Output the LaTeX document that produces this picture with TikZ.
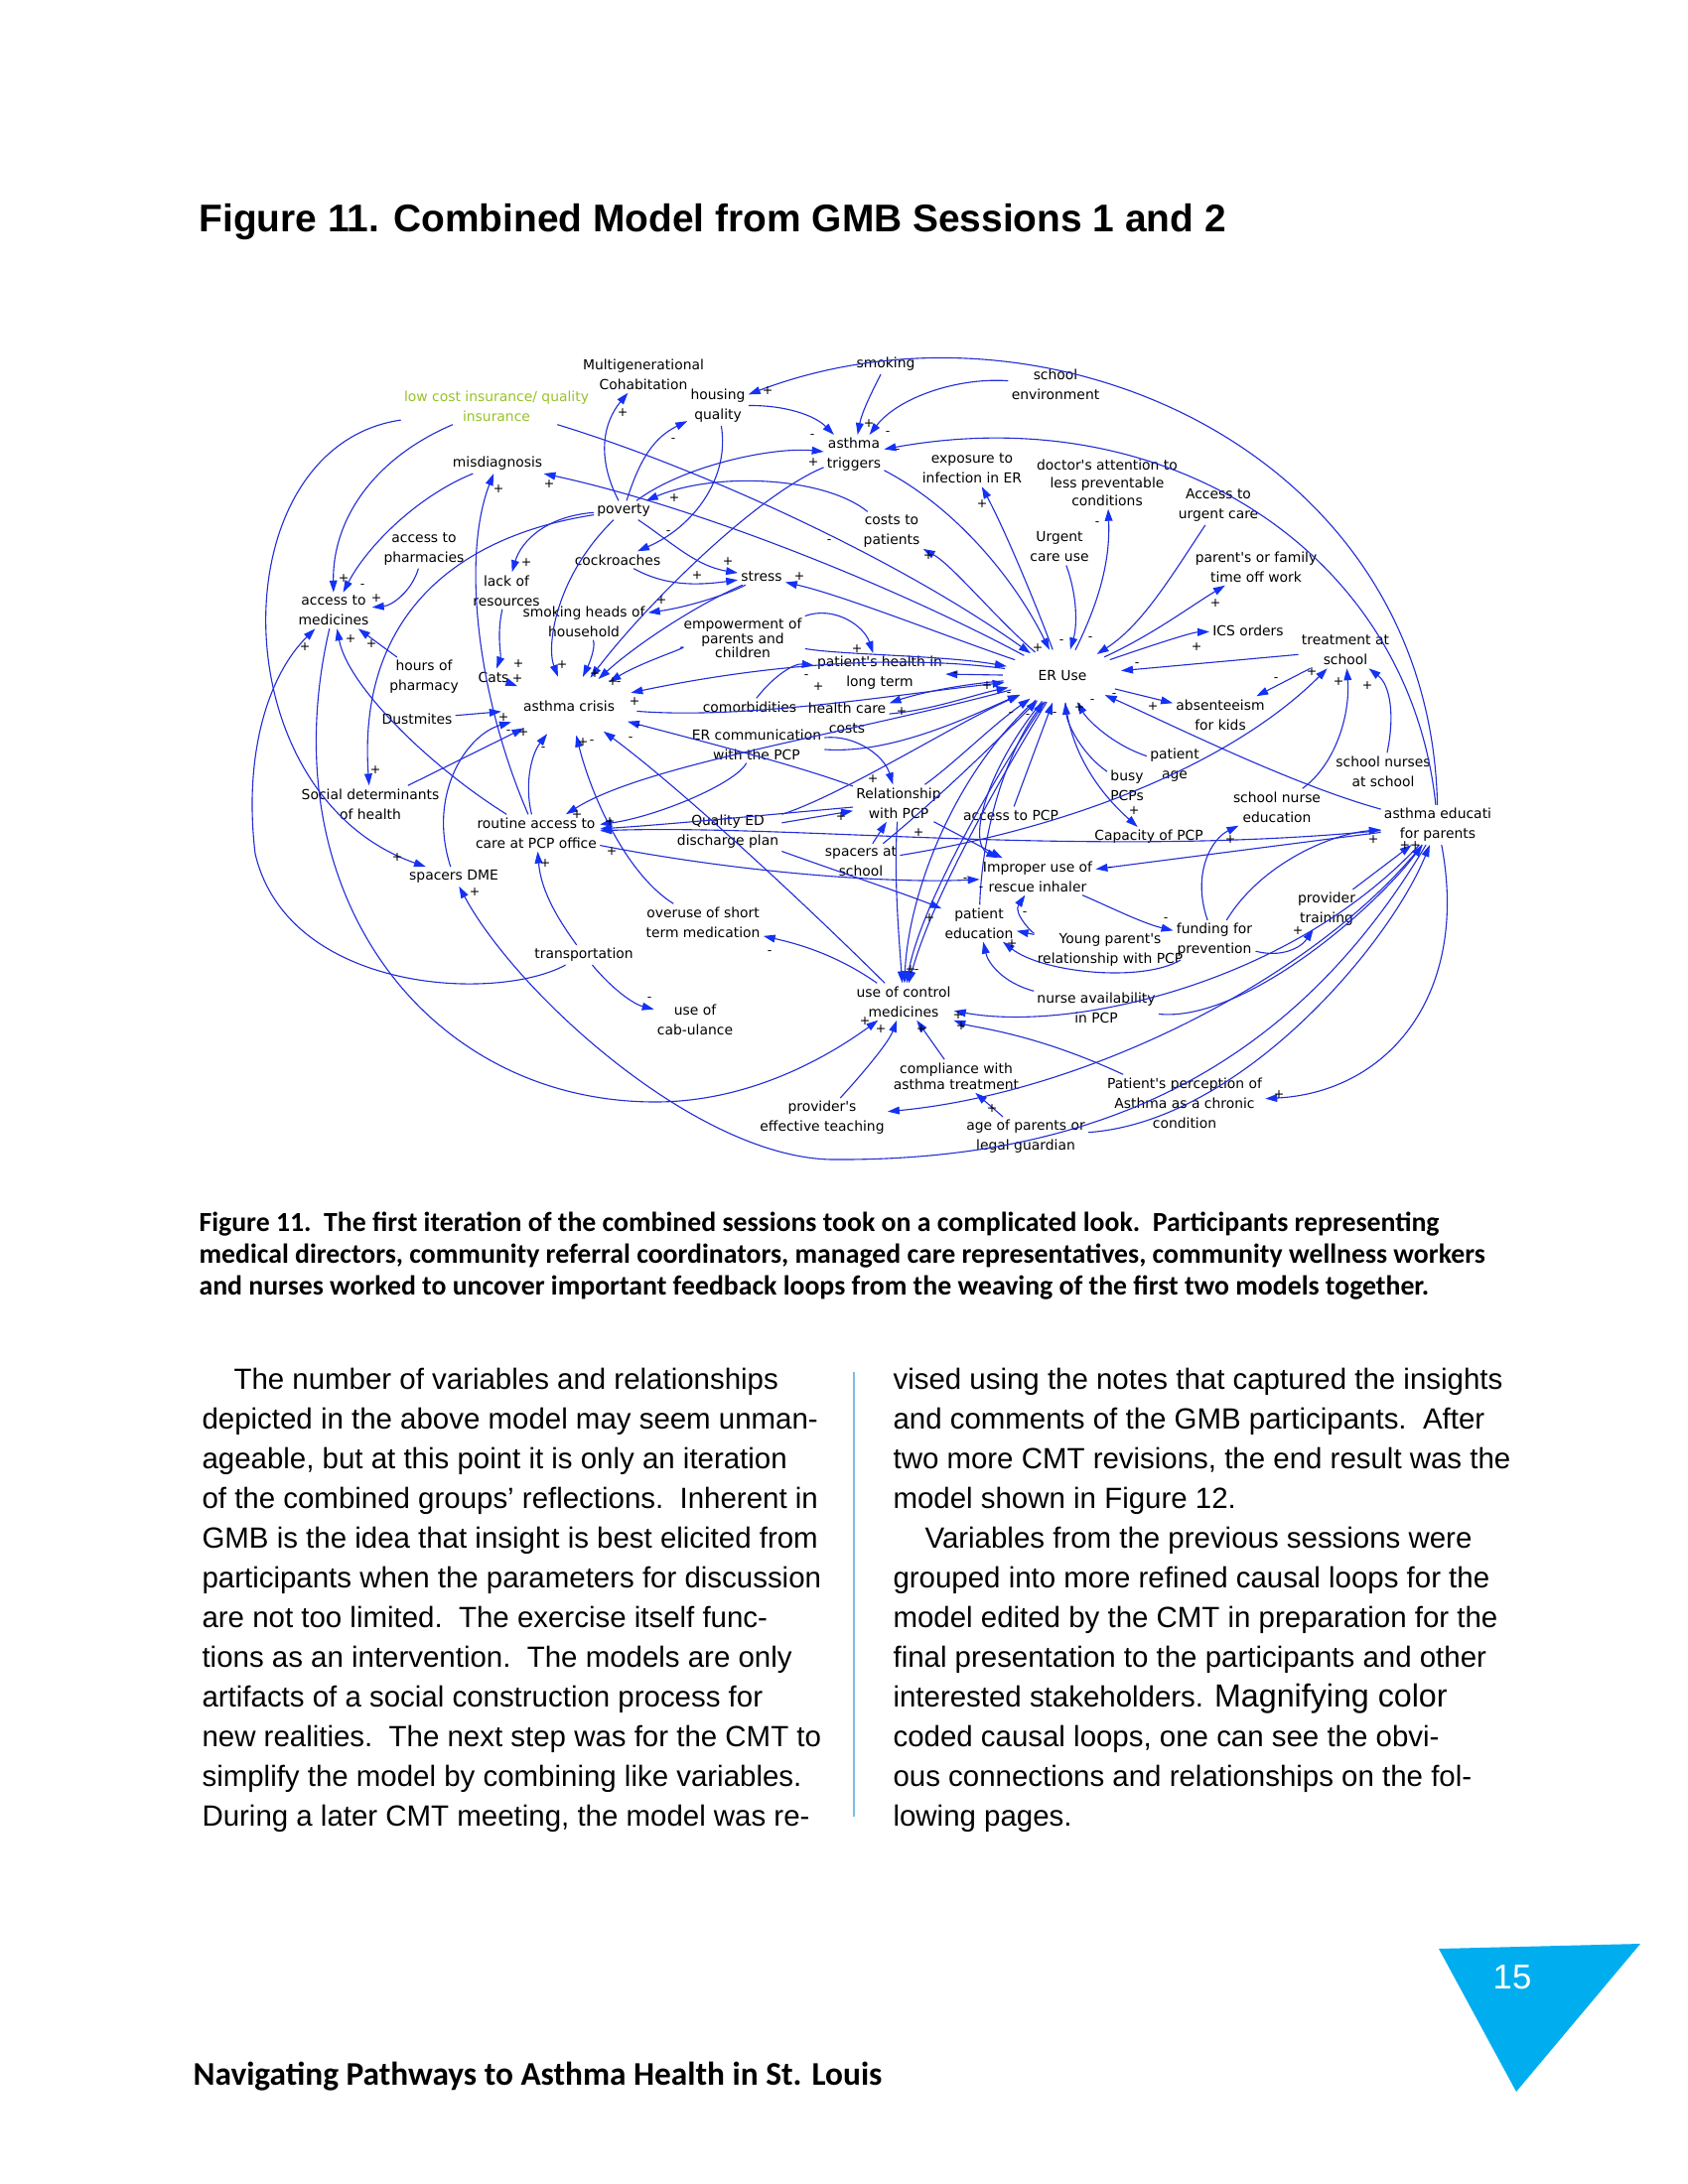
\documentclass[tikz,border=0pt]{standalone}
\usepackage{fontspec}
\setmainfont{Liberation Sans}
\newfontfamily\dfont{DejaVu Sans}
\newfontfamily\capfont{Carlito}
\usetikzlibrary{arrows.meta,shapes.geometric}
\definecolor{lnblue}{RGB}{35,45,215}
\definecolor{tipblue}{RGB}{20,50,245}
\definecolor{insgreen}{RGB}{150,195,40}
\definecolor{cyantri}{RGB}{0,174,239}
\definecolor{rulecol}{RGB}{120,190,230}
\newcounter{pc}
\newcommand\pl[3]{\stepcounter{pc}\node[pol] (pl\arabic{pc}) at (#1,#2) {#3};}
\tikzset{
 lab/.style={font=\dfont\fontsize{5}{7.2}\selectfont, align=center, inner sep=1pt},
 lnk/.style={draw=lnblue, line width=0.4pt, -{Triangle[length=4.3pt,width=2.8pt,color=tipblue]}},
 pol/.style={font=\dfont\fontsize{4.5}{5}\selectfont, inner sep=0pt},
 body/.style={font=\fontsize{10.6}{12}\selectfont, anchor=base west, inner sep=0pt},
 capt/.style={font=\capfont\bfseries\fontsize{10}{11}\selectfont, anchor=base west, inner sep=0pt},
}
\begin{document}
\begin{tikzpicture}[x=0.36pt,y=-0.36pt]
\useasboundingbox (0,0) rectangle (1700,2200);
\fill[white] (0,0) rectangle (1700,2200);

% title
\node[font=\bfseries\fontsize{14}{16}\selectfont, anchor=base west, inner sep=0pt] (title) at (200,234) {Figure 11. Combined Model from GMB Sessions 1 and 2};

% ---------------- nodes
\node[lab, text=insgreen] (ins) at (500,409) {low cost insurance/ quality\\insurance};
\node[lab] (multi) at (648,377) {Multigenerational\\Cohabitation};
\node[lab] (housing) at (723,409) {housing\\quality};
\node[lab] (smoking) at (892,367) {smoking};
\node[lab] (schoolenv) at (1063,387) {school\\environment};
\node[lab] (triggers) at (860,458) {asthma\\triggers};
\node[lab] (misdiag) at (501,467) {misdiagnosis};
\node[lab] (exposure) at (979,472) {exposure to\\infection in ER};
\node[lab, font=\dfont\fontsize{5}{6.5}\selectfont] (doctor) at (1115,486) {doctor's attention to\\less preventable\\conditions};
\node[lab] (poverty) at (628,514) {poverty};
\node[lab] (accurg) at (1227,509) {Access to\\urgent care};
\node[lab] (costs) at (898,535) {costs to\\patients};
\node[lab] (urgent) at (1067,551) {Urgent\\care use};
\node[lab] (accpharm) at (427,553) {access to\\pharmacies};
\node[lab] (cockroach) at (622,564) {cockroaches};
\node[lab] (lackres) at (510,595) {lack of\\resources};
\node[lab] (stress) at (767,581) {stress};
\node[lab] (timeoff) at (1265,571) {parent's or family\\time off work};
\node[lab] (accmed) at (336,615) {access to\\medicines};
\node[lab] (smokeheads) at (588,626) {smoking heads of\\household};
\node[lab] (ics) at (1257,635) {ICS orders};
\node[lab, font=\dfont\fontsize{5}{5.3}\selectfont] (empower) at (748,643) {empowerment of\\parents and\\children};
\node[lab] (treatschool) at (1355,655) {treatment at\\school};
\node[lab] (hours) at (427,682) {hours of\\pharmacy};
\node[lab] (cats) at (497,682) {Cats};
\node[lab] (health) at (886,678) {patient's health in\\long term};
\node[lab, ellipse, minimum width=43pt, minimum height=19pt] (eruse) at (1070,681) {ER Use};
\node[lab, ellipse, minimum width=44pt, minimum height=21pt] (crisis) at (573,711) {asthma crisis};
\node[lab] (comorb) at (755,712) {comorbidities};
\node[lab] (hccosts) at (853,723) {health care\\costs};
\node[lab] (dust) at (420,724) {Dustmites};
\node[lab] (absent) at (1229,720) {absenteeism\\for kids};
\node[lab] (ercomm) at (762,750) {ER communication\\with the PCP};
\node[lab] (page) at (1183,771) {patient\\age};
\node[lab] (nurses) at (1393,777) {school nurses\\at school};
\node[lab] (busy) at (1135,791) {busy\\PCPs};
\node[lab] (socdet) at (373,810) {Social determinants\\of health};
\node[lab] (relpcp) at (905,809) {Relationship\\with PCP};
\node[lab] (nurseedu) at (1286,813) {school nurse\\education};
\node[lab] (accpcp) at (1018,821) {access to PCP};
\node[lab] (asted) at (1448,831) {asthma educati\\for parents};
\node[lab] (qed) at (733,838) {Quality ED\\discharge plan};
\node[lab] (routine) at (540,839) {routine access to\\care at PCP office};
\node[lab] (capacity) at (1157,843) {Capacity of PCP};
\node[lab] (spacersch) at (867,868) {spacers at\\school};
\node[lab] (spdme) at (457,883) {spacers DME};
\node[lab] (improper) at (1045,883) {Improper use of\\rescue inhaler};
\node[lab] (provtrain) at (1336,916) {provider\\training};
\node[lab] (overuse) at (708,929) {overuse of short\\term medication};
\node[lab] (patedu) at (986,930) {patient\\education};
\node[lab] (funding) at (1223,947) {funding for\\prevention};
\node[lab] (young) at (1118,957) {Young parent's\\relationship with PCP};
\node[lab] (transport) at (588,962) {transportation};
\node[lab] (nurseav) at (1104,1015) {nurse availability\\in PCP};
\node[lab] (control) at (910,1009) {use of control\\medicines};
\node[lab] (cab) at (700,1027) {use of\\cab-ulance};
\node[lab, font=\dfont\fontsize{5}{4.6}\selectfont] (compliance) at (963,1084) {compliance with\\asthma treatment};
\node[lab] (perception) at (1193,1111) {Patient's perception of\\Asthma as a chronic\\condition};
\node[lab] (provider) at (828,1126) {provider's\\effective teaching};
\node[lab] (age) at (1033,1145) {age of parents or\\legal guardian};

% ---------------- connectors
\draw[lnk] (smoking) .. controls (878,395) and (868,415) .. (triggers);
\draw[lnk] (schoolenv) .. controls (965,380) and (905,400) .. (triggers);
\draw[lnk] (housing) .. controls (790,408) and (820,418) .. (triggers);
\draw[lnk] (poverty) .. controls (690,468) and (780,450) .. (triggers);
\draw[lnk] (asted) .. controls (1420,560) and (1180,400) .. (triggers);
\draw[lnk] (asted) .. controls (1440,450) and (1050,285) .. (housing);
\draw[lnk] (triggers) .. controls (760,500) and (650,610) .. (crisis);
\draw[lnk] (triggers) .. controls (960,510) and (1020,580) .. (eruse);
\draw[lnk] (costs) .. controls (830,480) and (720,475) .. (poverty);
\draw[lnk] (eruse) .. controls (1000,620) and (960,570) .. (costs);
\draw[lnk] (eruse) .. controls (950,640) and (850,600) .. (stress);
\draw[lnk] (poverty) .. controls (675,545) and (700,570) .. (stress);
\draw[lnk] (cockroach) .. controls (670,590) and (700,590) .. (stress);
\draw[lnk] (housing) .. controls (735,480) and (700,530) .. (cockroach);
\draw[lnk] (stress) .. controls (730,600) and (690,612) .. (smokeheads);
\draw[lnk] (ins) .. controls (380,460) and (335,520) .. (accmed);
\draw[lnk] (ins) .. controls (220,450) and (220,800) .. (spdme);
\draw[lnk] (ins) .. controls (700,470) and (900,560) .. (eruse);
\draw[lnk] (misdiag) .. controls (420,500) and (370,550) .. (accmed);
\draw[lnk] (accpharm) .. controls (415,595) and (395,610) .. (accmed);
\draw[lnk] (eruse) .. controls (900,590) and (700,510) .. (misdiag);
\draw[lnk] (routine) .. controls (480,700) and (465,560) .. (misdiag);
\draw[lnk] (poverty) .. controls (600,460) and (608,425) .. (multi);
\draw[lnk] (poverty) .. controls (645,460) and (660,440) .. (housing);
\draw[lnk] (poverty) .. controls (550,520) and (525,545) .. (lackres);
\draw[lnk] (poverty) .. controls (460,540) and (360,620) .. (socdet);
\draw[lnk] (poverty) .. controls (560,580) and (550,650) .. (crisis);
\draw[lnk] (smokeheads) .. controls (600,650) and (595,665) .. (crisis);
\draw[lnk] (stress) .. controls (700,610) and (640,650) .. (crisis);
\draw[lnk] (empower) .. controls (700,650) and (650,665) .. (crisis);
\draw[lnk] (lackres) .. controls (500,640) and (505,660) .. (cats);
\draw[lnk] (cats) -- (crisis);
\draw[lnk] (dust) -- (crisis);
\draw[lnk] (hours) -- (accmed);
\draw[lnk] (routine) .. controls (430,770) and (350,690) .. (accmed);
\draw[lnk] (routine) .. controls (528,790) and (535,760) .. (crisis);
\draw[lnk] (socdet) -- (crisis);
\draw[lnk] (spdme) .. controls (430,800) and (470,740) .. (crisis);
\draw[lnk] (crisis) .. controls (750,725) and (900,700) .. (eruse);
\draw[lnk] (eruse) .. controls (850,740) and (650,770) .. (routine);
\draw[lnk] (eruse) .. controls (870,655) and (720,680) .. (crisis);
\draw[lnk] (relpcp) .. controls (800,770) and (700,745) .. (crisis);
\draw[lnk] (control) .. controls (800,900) and (680,790) .. (crisis);
\draw[lnk] (overuse) .. controls (630,880) and (595,800) .. (crisis);
\draw[lnk] (eruse) -- (health);
\draw[lnk] (comorb) .. controls (780,680) and (800,668) .. (health);
\draw[lnk] (empower) .. controls (840,610) and (870,630) .. (health);
\draw[lnk] (eruse) .. controls (960,690) and (920,700) .. (hccosts);
\draw[lnk] (hccosts) .. controls (940,715) and (980,700) .. (eruse);
\draw[lnk] (ercomm) .. controls (860,740) and (890,760) .. (relpcp);
\draw[lnk] (qed) -- (relpcp);
\draw[lnk] (spacersch) -- (relpcp);
\draw[lnk] (relpcp) -- (improper);
\draw[lnk] (relpcp) .. controls (900,880) and (905,940) .. (control);
\draw[lnk] (eruse) .. controls (960,780) and (915,900) .. (control);
\draw[lnk] (eruse) .. controls (990,800) and (925,920) .. (control);
\draw[lnk] (eruse) .. controls (1010,780) and (940,900) .. (control);
\draw[lnk] (control) .. controls (840,960) and (800,950) .. (overuse);
\draw[lnk] (qed) .. controls (850,880) and (910,900) .. (patedu);
\draw[lnk] (eruse) .. controls (990,780) and (975,850) .. (improper);
\draw[lnk] (nurseav) .. controls (1010,990) and (995,970) .. (patedu);
\draw[lnk] (funding) .. controls (1150,990) and (1050,980) .. (patedu);
\draw[lnk] (young) .. controls (1040,940) and (1020,920) .. (improper);
\draw[lnk] (young) -- (patedu);
\draw[lnk] (provider) .. controls (870,1080) and (895,1050) .. (control);
\draw[lnk] (compliance) -- (control);
\draw[lnk] (perception) .. controls (1040,1040) and (980,1035) .. (control);
\draw[lnk] (asted) .. controls (1300,990) and (1080,1040) .. (control);
\draw[lnk] (age) -- (compliance);
\draw[lnk] (asted) .. controls (1330,980) and (1100,1100) .. (provider);
\draw[lnk] (asted) .. controls (1300,1080) and (1100,1170) .. (837,1168) .. controls (700,1165) and (520,1000) .. (spdme);
\draw[lnk] (accmed) .. controls (270,900) and (430,1110) .. (660,1110) .. controls (760,1110) and (840,1060) .. (control);
\draw[lnk] (transport) .. controls (500,1010) and (290,1000) .. (257,860) .. controls (245,760) and (270,680) .. (accmed);
\draw[lnk] (transport) .. controls (620,1000) and (640,1012) .. (cab);
\draw[lnk] (transport) .. controls (565,930) and (545,900) .. (routine);
\draw[lnk] (urgent) .. controls (1085,600) and (1085,630) .. (eruse);
\draw[lnk] (eruse) .. controls (1110,600) and (1118,560) .. (doctor);
\draw[lnk] (accurg) .. controls (1180,580) and (1150,630) .. (eruse);
\draw[lnk] (eruse) .. controls (1160,640) and (1200,610) .. (timeoff);
\draw[lnk] (eruse) .. controls (1160,650) and (1200,637) .. (ics);
\draw[lnk] (treatschool) -- (eruse);
\draw[lnk] (eruse) -- (absent);
\draw[lnk] (treatschool) -- (absent);
\draw[lnk] (spacersch) .. controls (1100,830) and (1250,760) .. (treatschool);
\draw[lnk] (nurseedu) .. controls (1345,770) and (1360,720) .. (treatschool);
\draw[lnk] (nurses) .. controls (1405,720) and (1400,690) .. (treatschool);
\draw[lnk] (asted) .. controls (1300,790) and (1180,730) .. (eruse);
\draw[lnk] (page) .. controls (1120,750) and (1095,725) .. (eruse);
\draw[lnk] (busy) .. controls (1090,760) and (1075,730) .. (eruse);
\draw[lnk] (eruse) .. controls (1080,770) and (1120,810) .. (capacity);
\draw[lnk] (funding) .. controls (1200,880) and (1220,845) .. (nurseedu);
\draw[lnk] (asted) -- (improper);
\draw[lnk] (asted) .. controls (1100,865) and (800,830) .. (routine);
\draw[lnk] (funding) .. controls (1270,870) and (1340,840) .. (asted);
\draw[lnk] (provtrain) -- (asted);
\draw[lnk] (funding) .. controls (1290,965) and (1310,955) .. (provtrain);
\draw[lnk] (improper) .. controls (1110,910) and (1150,930) .. (funding);
\draw[lnk] (asted) .. controls (1480,1000) and (1400,1100) .. (perception);
\draw[lnk] (nurseav) .. controls (1250,1030) and (1380,920) .. (asted);
\draw[lnk] (age) .. controls (1250,1130) and (1400,950) .. (asted);
\draw[lnk] (ercomm) .. controls (900,760) and (980,720) .. (eruse);
\draw[lnk] (qed) .. controls (850,800) and (960,730) .. (eruse);
\draw[lnk] (accpcp) -- (eruse);
\draw[lnk] (spacersch) .. controls (950,800) and (1010,740) .. (eruse);
\draw[lnk] (patedu) .. controls (990,820) and (1020,750) .. (eruse);
\draw[lnk] (empower) .. controls (850,660) and (950,660) .. (eruse);
\draw[lnk] (relpcp) .. controls (960,770) and (1000,730) .. (eruse);
\draw[lnk] (routine) .. controls (750,880) and (900,890) .. (improper);
\draw[lnk] (eruse) .. controls (1040,600) and (1010,530) .. (exposure);
\draw[lnk] (relpcp) .. controls (780,820) and (680,830) .. (routine);
\draw[lnk] (ercomm) .. controls (740,790) and (660,823) .. (routine);

% ---------------- polarities
\pl{627}{416}{+} \pl{678}{444}{-} \pl{502}{493}{+} \pl{553}{488}{+}
\pl{679}{502}{+} \pl{673}{537}{-} \pl{530}{567}{+} \pl{346}{583}{+}
\pl{365}{591}{-} \pl{379}{603}{+} \pl{666}{605}{+}
\pl{773}{394}{+} \pl{875}{427}{+} \pl{818}{440}{-} \pl{894}{437}{-}
\pl{904}{455}{-} \pl{819}{466}{+} \pl{835}{546}{-} \pl{935}{560}{+}
\pl{989}{508}{+} \pl{733}{566}{+} \pl{702}{580}{+} \pl{805}{581}{+}
\pl{1105}{528}{-} \pl{1224}{608}{+}
\pl{307}{652}{+} \pl{353}{644}{+} \pl{374}{649}{+} \pl{522}{669}{+}
\pl{521}{684}{+} \pl{566}{670}{+} \pl{599}{679}{+} \pl{617}{687}{+}
\pl{623}{689}{-} \pl{639}{707}{+} \pl{507}{723}{+} \pl{512}{738}{-}
\pl{527}{738}{+} \pl{547}{755}{-} \pl{643}{733}{-} \pl{635}{745}{-}
\pl{587}{748}{+} \pl{596}{748}{-} \pl{378}{776}{+} \pl{581}{821}{+}
\pl{614}{828}{+} \pl{616}{858}{+} \pl{549}{870}{+} \pl{400}{864}{+}
\pl{863}{654}{+} \pl{812}{682}{-} \pl{824}{692}{+} \pl{962}{680}{-}
\pl{994}{691}{+} \pl{1016}{700}{-} \pl{908}{717}{+} \pl{1018}{720}{-}
\pl{1035}{722}{-} \pl{1062}{720}{-} \pl{879}{785}{+} \pl{847}{823}{+}
\pl{925}{839}{+} \pl{972}{887}{-} \pl{988}{896}{-} \pl{1069}{647}{-}
\pl{1045}{653}{+}
\pl{1098}{644}{-} \pl{1205}{652}{+} \pl{1145}{670}{-} \pl{1321}{677}{+}
\pl{1285}{685}{-} \pl{1348}{687}{+} \pl{1377}{691}{+} \pl{1161}{712}{+}
\pl{1122}{701}{-} \pl{1100}{707}{-} \pl{1087}{713}{+} \pl{1142}{817}{+}
\pl{1239}{846}{+} \pl{1383}{846}{+} \pl{1118}{876}{-} \pl{1420}{852}{++}
\pl{775}{960}{-} \pl{936}{925}{+} \pl{917}{977}{+} \pl{923}{979}{-}
\pl{1032}{921}{-} \pl{1019}{951}{+} \pl{871}{1029}{+} \pl{887}{1037}{+}
\pl{928}{1037}{+} \pl{965}{1023}{+} \pl{968}{1034}{+} \pl{999}{1117}{+}
\pl{654}{1007}{-} \pl{478}{899}{+} \pl{1174}{927}{-} \pl{1307}{938}{+}
\pl{1288}{1103}{+}

% ---------------- caption
\node[capt] (c1) at (200,1240) {Figure 11.\ \ The first iteration of the combined sessions took on a complicated look.\ \ Participants representing};
\node[capt] (c2) at (200,1272) {medical directors, community referral coordinators, managed care representatives, community wellness workers};
\node[capt] (c3) at (200,1304) {and nurses worked to uncover important feedback loops from the weaving of the first two models together.};

% ---------------- body text
\node[body] (l1) at (235,1399) {The number of variables and relationships};
\node[body] (l2) at (203,1439) {depicted in the above model may seem unman-};
\node[body] (l3) at (203,1479) {ageable, but at this point it is only an iteration};
\node[body] (l4) at (203,1519) {of the combined groups’ reflections.\ \ Inherent in};
\node[body] (l5) at (203,1559) {GMB is the idea that insight is best elicited from};
\node[body] (l6) at (203,1599) {participants when the parameters for discussion};
\node[body] (l7) at (203,1639) {are not too limited.\ \ The exercise itself func-};
\node[body] (l8) at (203,1679) {tions as an intervention.\ \ The models are only};
\node[body] (l9) at (203,1719) {artifacts of a social construction process for};
\node[body] (l10) at (203,1759) {new realities.\ \ The next step was for the CMT to};
\node[body] (l11) at (203,1799) {simplify the model by combining like variables.};
\node[body] (l12) at (203,1839) {During a later CMT meeting, the model was re-};

\draw[rulecol, line width=0.6pt] (860,1382) -- (860,1830);

\node[body] (r1) at (899,1399) {vised using the notes that captured the insights};
\node[body] (r2) at (899,1439) {and comments of the GMB participants.\ \ After};
\node[body] (r3) at (899,1479) {two more CMT revisions, the end result was the};
\node[body] (r4) at (899,1519) {model shown in Figure 12.};
\node[body] (r5) at (931,1559) {Variables from the previous sessions were};
\node[body] (r6) at (899,1599) {grouped into more refined causal loops for the};
\node[body] (r7) at (899,1639) {model edited by the CMT in preparation for the};
\node[body] (r8) at (899,1679) {final presentation to the participants and other};
\node[body] (r9) at (899,1719) {interested stakeholders. {\fontsize{11.6}{12}\selectfont Magnifying color}};
\node[body] (r10) at (899,1759) {coded causal loops, one can see the obvi-};
\node[body] (r11) at (899,1799) {ous connections and relationships on the fol-};
\node[body] (r12) at (899,1839) {lowing pages.};

% ---------------- footer
\fill[cyantri] (1449,1963) -- (1652,1958) -- (1527,2107) -- cycle;
\node[font=\fontsize{12.5}{14}\selectfont, text=white, inner sep=0pt] (pnum) at (1523,1992) {15};
\node[font=\capfont\bfseries\fontsize{12}{13}\selectfont, anchor=base west, inner sep=0pt] (foot) at (194,2100) {Navigating Pathways to Asthma Health in St. Louis};
\end{tikzpicture}
\end{document}
